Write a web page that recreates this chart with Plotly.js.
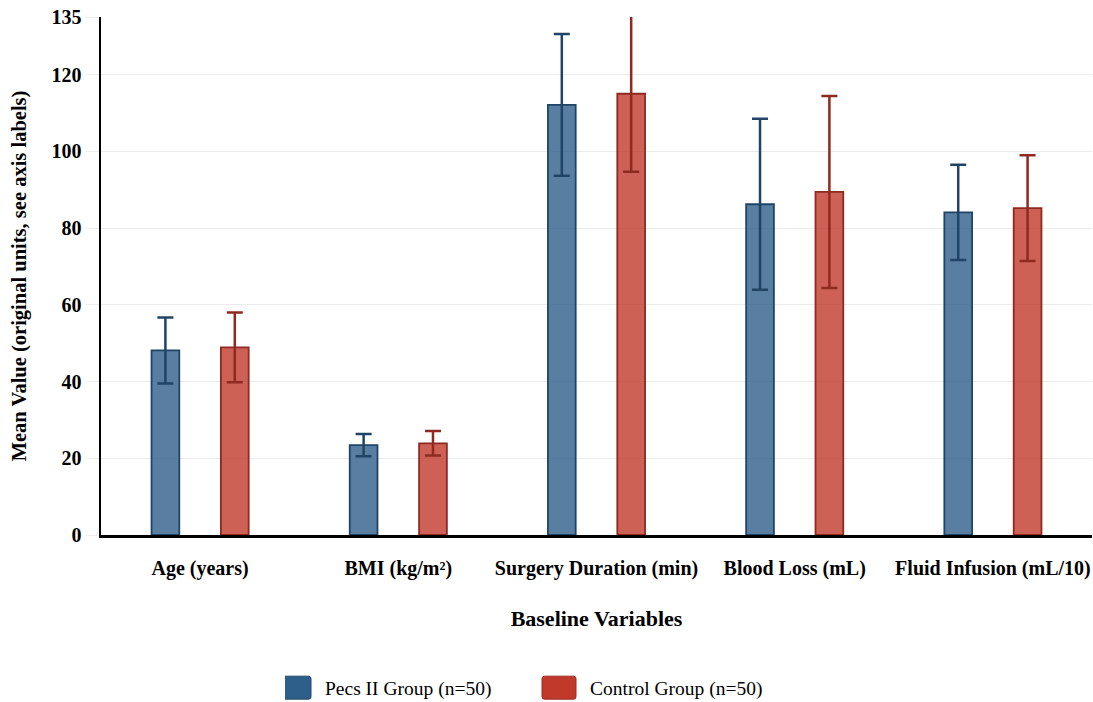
<!DOCTYPE html>
<html>
<head>
<meta charset="utf-8">
<script src="https://cdn.plot.ly/plotly-3.0.1.min.js"></script>
<style>
  html, body { margin: 0; padding: 0; background: #fff; }
  #chart { width: 1093px; height: 702px; }
</style>
</head>
<body>
<div id="chart"></div>
<script>
const categories = ["Age (years)", "BMI (kg/m²)", "Surgery Duration (min)", "Blood Loss (mL)", "Fluid Infusion (mL/10)"];
const pecsMeans = [48.1, 23.4, 112.1, 86.2, 84.1];
const pecsSD = [8.6, 2.9, 18.5, 22.3, 12.4];
const controlMeans = [48.9, 23.9, 115.0, 89.4, 85.2];
const controlSD = [9.1, 3.2, 20.3, 25.0, 13.8];
const seriesNames = ["Pecs II Group (n=50)", "Control Group (n=50)"];
const seriesColors = ["#2e5e8a", "#c0392b"];
const yTickVals = [0, 20, 40, 60, 80, 100, 120, 135];

const FONT = "'Times New Roman', 'Liberation Serif', serif";

const traces = [
  {
    type: "bar", name: seriesNames[0], x: categories, y: pecsMeans,
    marker: { color: "rgba(46,94,138,0.8)", line: { color: "#1f4466", width: 1.8 } },
    error_y: { type: "data", array: pecsSD, visible: true, color: "#1f4466", thickness: 2.5, width: 8 }
  },
  {
    type: "bar", name: seriesNames[1], x: categories, y: controlMeans,
    marker: { color: "rgba(192,57,43,0.8)", line: { color: "#8e2a20", width: 1.8 } },
    error_y: { type: "data", array: controlSD, visible: true, color: "#8e2a20", thickness: 2.5, width: 8 }
  }
];

const layout = {
  width: 1093, height: 702,
  paper_bgcolor: "#fff", plot_bgcolor: "#fff",
  margin: { l: 101, r: 1, t: 17, b: 167 },
  barmode: "group", bargap: 0.3, bargroupgap: 0.6,
  font: { family: FONT, color: "#000", size: 20 },
  showlegend: true,
  legend: {
    orientation: "h", xref: "container", yref: "container",
    x: 285 / 1093, xanchor: "left", y: 1 - 688 / 702, yanchor: "middle",
    font: { family: FONT, size: 19.5, color: "#000" },
    entrywidth: 260, entrywidthmode: "pixels"
  },
  xaxis: {
    title: { text: "<b>Baseline Variables</b>", font: { family: FONT, size: 22 }, standoff: 32 },
    tickfont: { family: FONT, size: 20, weight: "bold" },
    showline: true, linecolor: "#000", linewidth: 2.5,
    ticks: "outside", ticklen: 13, tickcolor: "rgba(0,0,0,0)",
    showgrid: false, automargin: false
  },
  yaxis: {
    title: { text: "<b>Mean Value (original units, see axis labels)</b>", font: { family: FONT, size: 20.5 }, standoff: 20 },
    range: [0, 135], tickvals: yTickVals, ticktext: yTickVals.map(String),
    tickfont: { family: FONT, size: 20, weight: "bold" },
    showline: true, linecolor: "#000", linewidth: 2.5,
    ticks: "outside", ticklen: 13, tickcolor: "#eeeeee", tickwidth: 1,
    showgrid: true, gridcolor: "#ebebeb", gridwidth: 1,
    zeroline: false, automargin: false
  }
};

const SVGNS = "http://www.w3.org/2000/svg";
Plotly.newPlot("chart", traces, layout, { displayModeBar: false, staticPlot: true }).then(gd => {
  const items = document.querySelectorAll(".legend .traces");
  let x0 = null;
  items.forEach((g, i) => {
    const t = g.getAttribute("transform") || "";
    const m = t.match(/translate\(([-\d.]+)[ ,]*([-\d.]+)?\)/);
    const ty = m && m[2] ? parseFloat(m[2]) : 0;
    const tx = m ? parseFloat(m[1]) : 0;
    if (x0 === null) x0 = tx;
    g.setAttribute("transform", "translate(" + (x0 + i * 265) + "," + ty + ")");
    const lp = g.querySelector(".legendpoints");
    if (lp) lp.style.display = "none";
    const r = document.createElementNS(SVGNS, "rect");
    r.setAttribute("x", -8); r.setAttribute("y", -11.5);
    r.setAttribute("width", 34); r.setAttribute("height", 23);
    r.setAttribute("rx", 2.5); r.setAttribute("ry", 2.5);
    r.setAttribute("fill", seriesColors[i]);
    r.setAttribute("stroke", i === 0 ? "#24496b" : "#9a2e23");
    r.setAttribute("stroke-width", 1);
    g.appendChild(r);
  });
});
</script>
</body>
</html>
